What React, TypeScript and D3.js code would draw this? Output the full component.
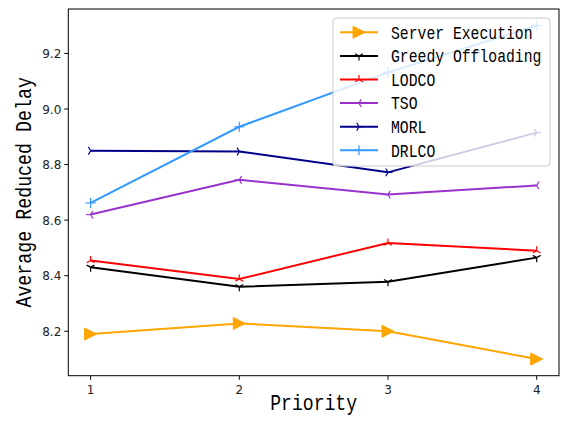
import React from "react";
import * as d3 from "d3";

const priorities = [1, 2, 3, 4];
const seriesNames = ["Server Execution", "Greedy Offloading", "LODCO", "TSO", "MORL", "DRLCO"];
const serverExecution = [8.19, 8.228, 8.2, 8.1];
const greedyOffloading = [8.43, 8.36, 8.378, 8.465];
const lodco = [8.455, 8.388, 8.518, 8.49];
const tso = [8.62, 8.745, 8.692, 8.725];
const morl = [8.85, 8.847, 8.772, 8.915];
const drlco = [8.662, 8.936, 9.132, 9.3];
const yTicks = [8.2, 8.4, 8.6, 8.8, 9.0, 9.2];
const colors = ["#FFA500", "#000000", "#FF0000", "#9932CC", "#00008B", "#3399FF"];
const markers = ["tri", "1", "2", "3", "4", "+"];

const W = 561, H = 424;
const L = 68.3, R = 559, T = 9, B = 375.7;
const FONT = "'Liberation Mono', 'DejaVu Sans Mono', monospace";

function Marker({ type, x, y, color }: { type: string; x: number; y: number; color: string }) {
  const s = 4.5;
  const sw = 1.2;
  if (type === "tri") {
    const t = 6;
    const p = `${x - t},${y - t} ${x + t},${y} ${x - t},${y + t}`;
    return <polygon points={p} fill={color} stroke={color} strokeWidth={1} />;
  }
  if (type === "+") {
    const t = 5;
    return (
      <g stroke={color} strokeWidth={sw}>
        <line x1={x - t} y1={y} x2={x + t} y2={y} />
        <line x1={x} y1={y - t} x2={x} y2={y + t} />
      </g>
    );
  }
  const angles: Record<string, number> = { "1": 0, "2": 180, "3": 90, "4": -90 };
  const a = angles[type];
  const pts = [
    [0, s],
    [-s * 0.866, -s * 0.5],
    [s * 0.866, -s * 0.5],
  ];
  return (
    <g transform={`translate(${x},${y}) rotate(${a})`} stroke={color} strokeWidth={sw}>
      {pts.map((p, i) => (
        <line key={i} x1={0} y1={0} x2={p[0]} y2={p[1]} />
      ))}
    </g>
  );
}

export default function App() {
  const x = d3.scaleLinear().domain([0.85, 4.15]).range([L, R]);
  const y = d3.scaleLinear().domain([8.04, 9.36]).range([B, T]);
  const data = [serverExecution, greedyOffloading, lodco, tso, morl, drlco];
  const line = d3
    .line<number>()
    .x((_, i) => x(priorities[i]))
    .y((d) => y(d));

  const legX = 333, legY = 18, legW = 217, legH = 148;
  const rowH = 23.6;

  return (
    <svg width={W} height={H} style={{ position: "absolute", left: 0, top: 0, background: "#fff" }}>
      <rect x={0} y={0} width={W} height={H} fill="#fff" />
      {data.map((d, si) => (
        <g key={si}>
          <path d={line(d) || ""} fill="none" stroke={colors[si]} strokeWidth={2} />
          {d.map((v, i) => (
            <Marker key={i} type={markers[si]} x={x(priorities[i])} y={y(v)} color={colors[si]} />
          ))}
        </g>
      ))}
      <rect x={L} y={T} width={R - L} height={B - T} fill="none" stroke="#000" strokeWidth={1} />
      {priorities.map((p) => (
        <g key={p}>
          <line x1={x(p)} x2={x(p)} y1={B} y2={B + 4} stroke="#000" />
          <text x={x(p)} y={B + 18} textAnchor="middle" fontSize={12} fontFamily="'DejaVu Sans', sans-serif" fill="#222">
            {p}
          </text>
        </g>
      ))}
      {yTicks.map((t) => (
        <g key={t}>
          <line x1={L - 4} x2={L} y1={y(t)} y2={y(t)} stroke="#000" />
          <text x={L - 7} y={y(t) + 4.5} textAnchor="end" fontSize={12} fontFamily="'DejaVu Sans', sans-serif" fill="#222">
            {t.toFixed(1)}
          </text>
        </g>
      ))}
      <g transform={`translate(${(L + R) / 2},410) scale(1,1.2)`}>
        <text x={0} y={0} textAnchor="middle" fontSize={18.1} fontFamily={FONT} fill="#000">
          Priority
        </text>
      </g>
      <g transform={`translate(31,${(T + B) / 2}) rotate(-90) scale(1,1.2)`}>
        <text x={0} y={0} textAnchor="middle" fontSize={18.3} fontFamily={FONT} fill="#000">
          Average Reduced Delay
        </text>
      </g>
      <g>
        <rect x={legX} y={legY} width={legW} height={legH} rx={3} fill="#fff" fillOpacity={0.8} stroke="#ccc" />
        {seriesNames.map((n, i) => {
          const cy = legY + 14.3 + i * rowH;
          return (
            <g key={n}>
              <line x1={340} x2={378} y1={cy} y2={cy} stroke={colors[i]} strokeWidth={2} />
              <Marker type={markers[i]} x={359} y={cy} color={colors[i]} />
              <g transform={`translate(391,${cy + 6.3}) scale(1,1.2)`}>
                <text x={0} y={0} fontSize={14.75} fontFamily={FONT} fill="#000">
                  {n}
                </text>
              </g>
            </g>
          );
        })}
      </g>
    </svg>
  );
}
